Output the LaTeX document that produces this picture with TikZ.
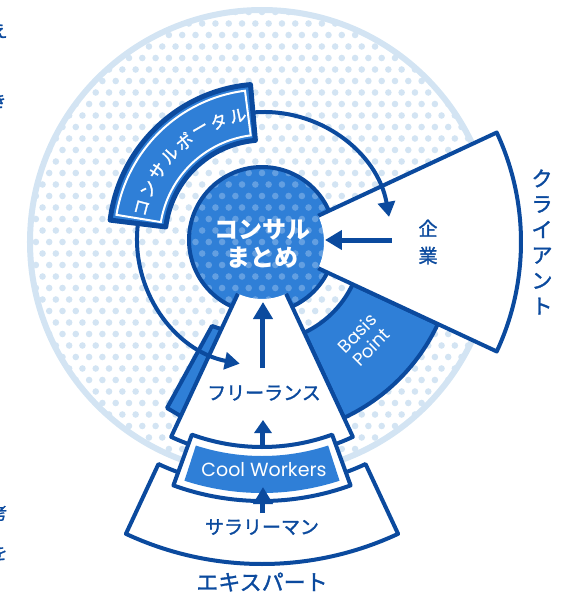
\documentclass[tikz,border=0pt]{standalone}
\usepackage{fontspec}
\setmainfont{Noto Sans CJK JP}
\newfontfamily\jpm{Noto Sans CJK JP}[FakeBold=1.5]
\newfontfamily\latinf{Poppins}
\usetikzlibrary{arrows.meta}
\definecolor{navy}{HTML}{0B4A9E}
\definecolor{midblue}{HTML}{2F7FD7}
\definecolor{dotblue}{HTML}{D3E4F3}
\tikzset{
  outl/.style={draw=navy,line width=4pt,line join=round},
  lbl/.style={text=navy,inner sep=0pt,font=\jpm\fontsize{19pt}{19pt}\selectfont},
  arr/.style={draw=navy,line width=5pt,-{Triangle[length=17pt,width=19pt]}},
  conn/.style={draw=navy,line width=4pt,-{Triangle[length=15pt,width=17pt]}},
  sector/.style n args={4}{insert path={(#1:#3) -- (#1:#4) arc[start angle=#1,end angle=#2,radius=#4] -- (#2:#3) arc[start angle=#2,end angle=#1,radius=#3] -- cycle}},
}
\begin{document}
\begin{tikzpicture}[x=1pt,y=1pt]
\useasboundingbox (-262,242) rectangle (322,-361);
\clip (-262,242) rectangle (322,-361);
% dotted disk
\begin{scope}
  \clip (0,0) circle (233);
  \foreach \j in {-21,...,21}{
    \foreach \i in {-18,...,18}{
      \pgfmathsetmacro\xx{\i*13.3+mod(abs(\j),2)*6.65}
      \fill[dotblue] (\xx,\j*11.5) circle (3.3);
    }}
\end{scope}
\draw[dotblue,line width=6pt] (0,0) circle (232);
% centre circle
\fill[midblue] (0,2) circle (73);
\begin{scope}
  \clip (0,2) circle (73);
  \foreach \j in {-7,...,7}{
    \foreach \i in {-6,...,6}{
      \pgfmathsetmacro\xx{\i*13.3+mod(abs(\j),2)*6.65}
      \fill[white,opacity=.25] (\xx,\j*11.5) circle (3.3);
    }}
\end{scope}
\draw[navy,line width=4pt] (0,2) circle (73);
% portal band
\begin{scope}[shift={(2,3)}]
  \path[fill=midblue,outl,line width=5pt,sector={95}{173}{99}{155}];
  \path[draw=white,line width=2pt,sector={97.3}{170.7}{104.5}{149.5}];
  \foreach \c [count=\k from 0] in {コ,ン,サ,ル,ポ,ー,タ,ル}{
    \pgfmathsetmacro\ang{165.6-\k*9.09}
    \node[text=white,inner sep=0pt,font=\jpm\fontsize{17pt}{17pt}\selectfont,rotate=\ang-90] (p\k) at (\ang:126) {\c};
  }
\end{scope}
% Basis Point
\path[fill=midblue,outl,sector={-65}{-25}{100}{194}];
\node[text=white,rotate=45,align=center,inner sep=0pt,font=\latinf\fontsize{18pt}{20pt}\selectfont] (bp) at (102,-98) {Basis\\Point};
% sliver
\path[fill=midblue,outl] (-50,-84) -- (-38,-88) -- (-78,-176) -- (-95,-166) -- cycle;
% freelance
\path[fill=white,sector={-115}{-65}{57}{215}];
\draw[outl] (-115:57) -- (-115:215) arc[start angle=-115,end angle=-65,radius=215] -- (-65:57);
% client wedge
\path[fill=white,sector={-25}{25}{62}{259}];
\draw[outl] (25:62) -- (25:259) arc[start angle=25,end angle=-25,radius=259] -- (-25:62);
% connectors
\begin{scope}[shift={(2,3)}]
  \draw[conn] (95:127) arc[start angle=95,end angle=10,radius=127];
  \draw[conn] (173:127) arc[start angle=173,end angle=259,radius=127];
\end{scope}
% expert
\path[fill=white,outl,sector={-115}{-65}{245}{322}];
% cool workers
\path[fill=white,outl,sector={-110}{-70}{205}{259}];
\path[fill=midblue,sector={-108}{-72}{214}{251}];
% texts
\node[text=white,align=center,inner sep=0pt,font=\bfseries\fontsize{24pt}{28pt}\selectfont] (mat) at (1,-2) {コンサル\\まとめ};
\node[lbl,align=center,font=\jpm\fontsize{19pt}{27pt}\selectfont] (kig) at (166,0) {企\\業};
\node[lbl,align=center,font=\jpm\fontsize{21pt}{25.5pt}\selectfont] (cli) at (280,0) {ク\\ラ\\イ\\ア\\ン\\ト};
\node[lbl] (fre) at (2,-151) {フリーランス};
\node[lbl] (sal) at (0,-285) {サラリーマン};
\node[lbl,font=\jpm\fontsize{22pt}{22pt}\selectfont] (exp) at (0,-340) {エキスパート};
\node[text=white,inner sep=0pt,font=\latinf\fontsize{19pt}{19pt}\selectfont] (cw) at (2,-228) {Cool Workers};
% straight arrows
\coordinate (a1s) at (130,2); \coordinate (a1e) at (63,2);
\draw[arr] (a1s) -- (a1e);
\coordinate (a2s) at (1,-126); \coordinate (a2e) at (1,-60);
\draw[arr] (a2s) -- (a2e);
\coordinate (a3s) at (1,-206); \coordinate (a3e) at (1,-178);
\draw[arr,-{Triangle[length=13pt,width=17pt]}] (a3s) -- (a3e);
\coordinate (a4s) at (1,-271); \coordinate (a4e) at (1,-245);
\draw[arr] (a4s) -- (a4e);
% cut-off text at left edge
\node[lbl,font=\jpm\fontsize{17pt}{17pt}\selectfont] (e1) at (-263,211) {え};
\node[lbl,font=\jpm\fontsize{17pt}{17pt}\selectfont] (e2) at (-264,141) {き};
\node[lbl,font=\jpm\fontsize{17pt}{17pt}\selectfont] (e3) at (-263,-271) {考};
\node[lbl,font=\jpm\fontsize{17pt}{17pt}\selectfont] (e4) at (-263,-311) {を};
\end{tikzpicture}
\end{document}
